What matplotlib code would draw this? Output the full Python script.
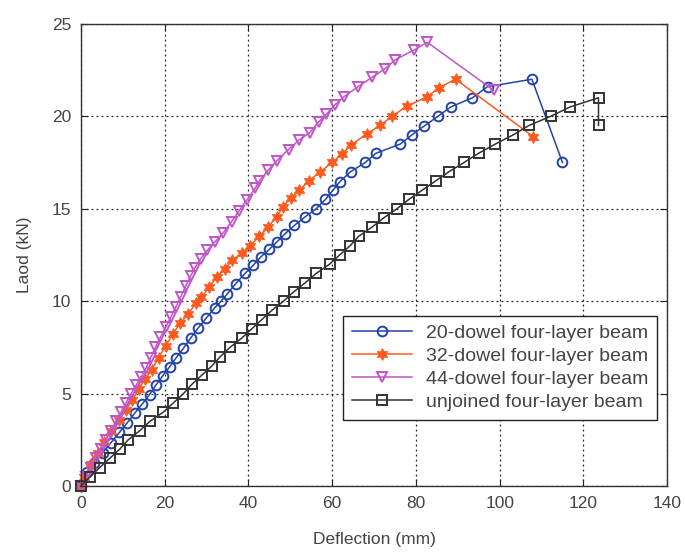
import matplotlib
matplotlib.use("Agg")
import matplotlib.pyplot as plt

# load-deflection readings (deflection mm, load kN)
d20_x = [0, 1.5, 3.2, 5.2, 7.2, 9.2, 11.0, 12.9, 14.7, 16.4, 17.9, 19.5, 21.2, 22.8, 24.5,
         26.2, 28.0, 30.0, 32.0, 33.5, 35.0, 37.0, 39.2, 41.2, 43.0, 45.0, 46.8, 48.8, 51.0,
         53.5, 56.2, 58.4, 60.2, 61.8, 64.4, 67.9, 70.5, 76.3, 79.1, 81.9, 85.3, 88.3, 93.5,
         97.1, 107.7, 115.0]
d20_y = [0, 0.75, 1.25, 1.8, 2.35, 2.9, 3.4, 3.95, 4.45, 4.95, 5.45, 5.95, 6.45, 6.95, 7.45,
         8.0, 8.55, 9.1, 9.65, 10.0, 10.4, 10.95, 11.5, 11.95, 12.4, 12.8, 13.2, 13.65, 14.1,
         14.55, 15.0, 15.5, 16.0, 16.45, 17.0, 17.5, 18.0, 18.5, 19.0, 19.46, 20.0, 20.5, 21.0,
         21.6, 22.0, 17.5]

d32_x = [0, 0.8, 2.4, 4.0, 5.6, 7.2, 9.0, 10.7, 12.3, 13.8, 15.4, 16.9, 18.6, 20.3, 21.9,
         23.7, 25.6, 27.5, 28.8, 30.6, 32.4, 34.4, 36.2, 38.4, 40.4, 42.6, 44.6, 46.8, 48.2,
         50.2, 52.2, 54.4, 57.2, 60.0, 62.4, 64.6, 68.3, 71.5, 74.3, 77.8, 82.7, 85.5, 89.5,
         108.0]
d32_y = [0, 0.5, 1.2, 1.8, 2.4, 3.0, 3.55, 4.1, 4.65, 5.25, 5.8, 6.3, 6.95, 7.6, 8.2,
         8.8, 9.3, 9.9, 10.2, 10.75, 11.3, 11.75, 12.2, 12.6, 13.0, 13.5, 14.0, 14.55, 15.1,
         15.6, 16.0, 16.5, 17.0, 17.5, 17.98, 18.45, 19.06, 19.5, 20.0, 20.54, 21.05, 21.55, 22.0,
         18.9]

d44_x = [0, 1.2, 2.4, 3.6, 4.8, 6.0, 7.2, 8.4, 9.6, 10.8, 12.0, 13.2, 14.4, 15.6, 16.7,
         17.8, 19.0, 20.3, 21.5, 22.7, 23.9, 25.0, 26.2, 27.2, 28.6, 30.2, 32.0, 34.0, 36.0,
         37.8, 39.6, 41.6, 42.6, 44.8, 46.8, 49.6, 52.0, 54.6, 56.8, 58.6, 60.6, 62.8, 66.2,
         69.5, 72.7, 75.1, 79.5, 82.7, 98.6]
d44_y = [0, 0.5, 1.0, 1.5, 2.0, 2.5, 3.0, 3.5, 4.0, 4.5, 5.0, 5.45, 5.9, 6.4, 6.95,
         7.5, 8.05, 8.6, 9.15, 9.7, 10.25, 10.8, 11.35, 11.8, 12.3, 12.75, 13.2, 13.7, 14.3,
         14.9, 15.45, 16.1, 16.5, 17.1, 17.6, 18.2, 18.7, 19.1, 19.7, 20.1, 20.6, 21.05, 21.6,
         22.1, 22.58, 23.06, 23.57, 24.0, 21.4]

unj_x = [0, 2.2, 4.5, 6.9, 9.3, 11.3, 14.1, 16.5, 19.7, 22.1, 24.5, 26.5, 28.9, 31.3, 33.3,
         35.6, 38.4, 40.8, 43.2, 45.6, 48.4, 50.8, 53.6, 56.2, 59.4, 61.8, 64.3, 66.3, 69.5,
         72.3, 75.5, 78.3, 81.5, 84.7, 87.9, 91.5, 95.0, 99.0, 103.3, 107.0, 112.2, 116.8,
         123.6, 123.6]
unj_y = [0, 0.5, 1.0, 1.5, 2.0, 2.5, 3.0, 3.5, 4.0, 4.5, 5.0, 5.5, 6.0, 6.5, 7.0,
         7.5, 8.0, 8.5, 9.0, 9.5, 10.0, 10.5, 11.0, 11.5, 12.0, 12.5, 13.0, 13.5, 14.0,
         14.5, 15.0, 15.5, 16.0, 16.5, 17.0, 17.5, 18.0, 18.5, 19.0, 19.5, 20.0, 20.5,
         21.0, 19.5]

labels = ["20-dowel four-layer beam", "32-dowel four-layer beam",
          "44-dowel four-layer beam", "unjoined four-layer beam"]

plt.rcParams["font.family"] = ["Liberation Sans", "DejaVu Sans"]

fig = plt.figure(figsize=(6.85, 5.53), dpi=100)
ax = fig.add_axes([0.118, 0.121, 0.856, 0.836])

ax.plot(d20_x, d20_y, color="#2443a8", lw=1.1, marker="o", ms=7,
        mfc="none", mec="#2443a8", mew=1.4, label=labels[0], clip_on=False)
ax.plot(d32_x, d32_y, color="#ff5a1e", lw=1.1, marker=(6, 1, 0), ms=8.5,
        mfc="#ff5a1e", mec="#ff5a1e", mew=0.8, label=labels[1], clip_on=False)
ax.plot(d44_x, d44_y, color="#c055c8", lw=1.1, marker="v", ms=7.5,
        mfc="none", mec="#c055c8", mew=1.4, label=labels[2], clip_on=False)
ax.plot(unj_x, unj_y, color="#333333", lw=1.1, marker="s", ms=7,
        mfc="none", mec="#333333", mew=1.4, label=labels[3], clip_on=False)

ax.set_xlim(0, 140)
ax.set_ylim(0, 25)
ax.set_xticks(range(0, 141, 20))
ax.set_yticks(range(0, 26, 5))
ax.grid(True, color="#222222", ls=(0, (1.5, 2.5)), lw=0.9)
ax.tick_params(direction="in", top=True, right=True, labelsize=12.5,
               colors="#222222", labelcolor="#444444", length=5, pad=7)
for s in ax.spines.values():
    s.set_color("#333333")
    s.set_linewidth(1.0)

ax.set_xlabel("Deflection (mm)", fontsize=12.5, color="#444444", labelpad=15)
ax.set_ylabel("Laod (kN)", fontsize=12.5, color="#444444", labelpad=14)

leg = ax.legend(loc="lower right", bbox_to_anchor=(0.983, 0.143), fontsize=14,
                fancybox=False, edgecolor="#222222", framealpha=1,
                handlelength=3.1, handletextpad=0.7, borderpad=0.45,
                labelspacing=0.28, borderaxespad=0)
leg.get_frame().set_linewidth(1.0)
for t in leg.get_texts():
    t.set_color("#444444")

fig.savefig("out.png", dpi=100)
